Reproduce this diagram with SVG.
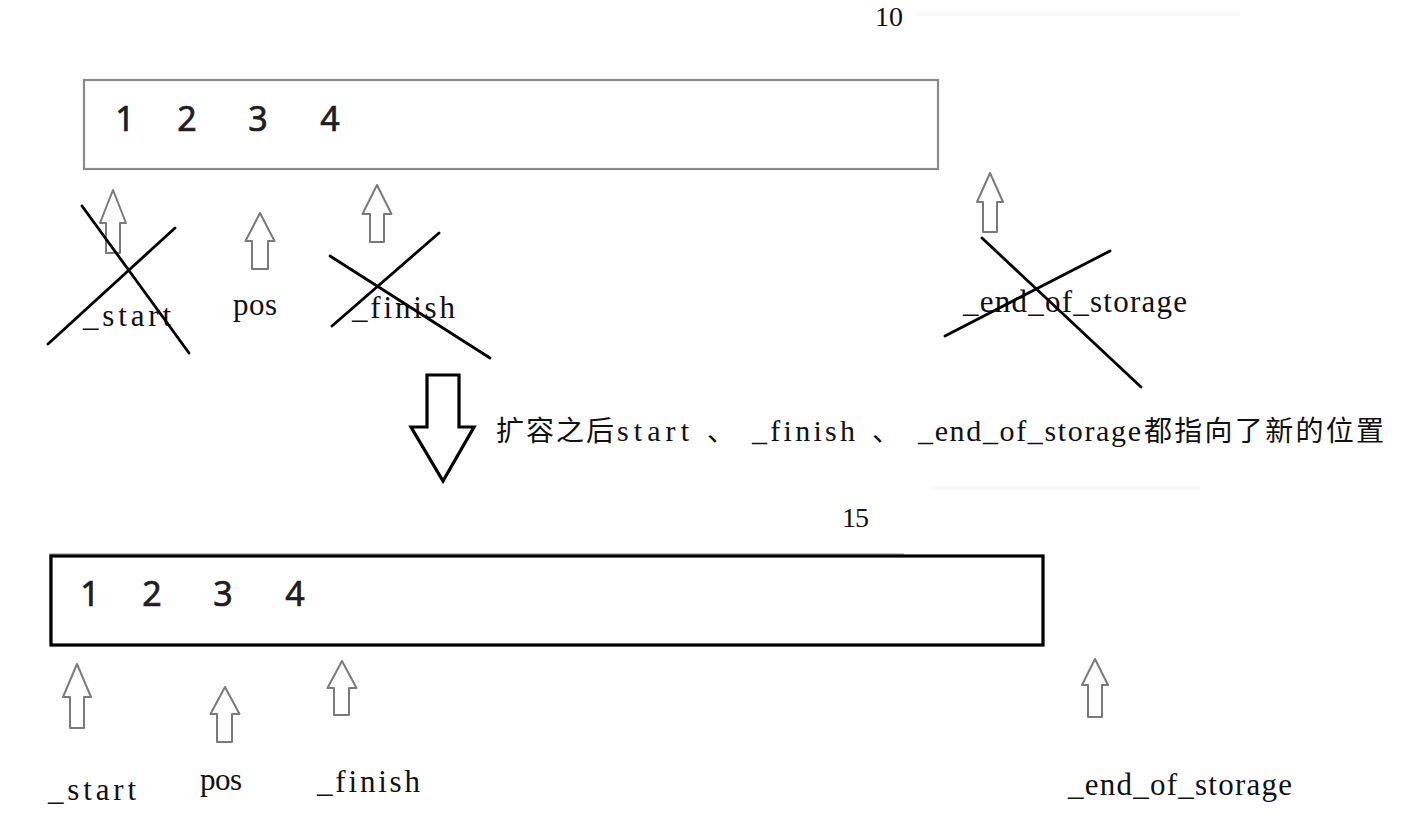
<svg xmlns="http://www.w3.org/2000/svg" width="1404" height="839" viewBox="0 0 1404 839">
<style>
.bg{fill:#ffffff}
.old{fill:#ffffff;stroke:#8a8a8a;stroke-width:2.2}
.new{fill:#ffffff;stroke:#000000;stroke-width:3.2}
.ghost{fill:none;stroke:#b0b0b0;stroke-width:1.5}
.num{font-family:"Noto Sans","Open Sans","Liberation Sans",sans-serif;font-size:34px;fill:#1e1e1e;stroke:#1e1e1e;stroke-width:0.7;text-anchor:middle}
.lbl{font-family:"Liberation Serif","Noto Sans CJK SC",serif;font-size:31px;fill:#111111}
.cnt{font-family:"Liberation Serif",serif;font-size:28px;fill:#111111}
.cap{font-family:"Liberation Serif","Noto Sans CJK SC",serif;font-size:30px;fill:#111111}
.cjk{font-family:"Noto Sans CJK SC","Liberation Serif",serif;font-size:28px}
.ptr{fill:#ffffff;stroke:#7a7a7a;stroke-width:2;stroke-linejoin:round}
.x{stroke:#000000;stroke-width:2.8;stroke-linecap:round}
.big{fill:#ffffff;stroke:#000000;stroke-width:3.2;stroke-linejoin:miter}
.faint{stroke:#f8f9f8;stroke-width:4}
</style>
<rect class="bg" x="0" y="0" width="1404" height="839"/>
<line class="faint" x1="915" y1="14" x2="1240" y2="14"/>
<line class="faint" x1="930" y1="488" x2="1200" y2="488"/>

<g id="old-vector">
  <text class="cnt" x="875" y="26" textLength="28">10</text>
  <rect class="old" x="84" y="80" width="854" height="89"/>
  <text class="num" x="125" y="131">1</text>
  <text class="num" x="187" y="131">2</text>
  <text class="num" x="258" y="131">3</text>
  <text class="num" x="330" y="131">4</text>
</g>

<g id="old-start">
  <text class="lbl" x="83" y="326" textLength="88">_start</text>
</g>
<g id="old-pos">
  <text class="lbl" x="233" y="315" textLength="44">pos</text>
</g>
<g id="old-finish">
  <text class="lbl" x="352" y="318" textLength="103">_finish</text>
</g>
<g id="old-end">
  <text class="lbl" x="963" y="312" textLength="224">_end_of_storage</text>
</g>

<g id="new-vector">
  <text class="cnt" x="842" y="527" textLength="27">15</text>
  <rect class="ghost" x="50" y="554" width="853" height="88"/>
  <rect class="new" x="51" y="556" width="992" height="89"/>
  <text class="num" x="90" y="606">1</text>
  <text class="num" x="152" y="606">2</text>
  <text class="num" x="223" y="606">3</text>
  <text class="num" x="295" y="606">4</text>
</g>

<g id="new-start">
  <text class="lbl" x="48" y="800" textLength="88">_start</text>
</g>
<g id="new-pos">
  <text class="lbl" x="200" y="790" textLength="42">pos</text>
</g>
<g id="new-finish">
  <text class="lbl" x="317" y="792" textLength="103">_finish</text>
</g>
<g id="new-end">
  <text class="lbl" x="1068" y="795" textLength="224">_end_of_storage</text>
</g>

<g id="caption">
  <path class="big" d="M427,375 L459,375 L459,427 L474,427 L443,481 L411,427 L427,427 Z"/>
  <text class="cap" y="441"><tspan class="cjk" x="496" textLength="118">扩容之后</tspan><tspan x="617" textLength="72">start</tspan> <tspan class="cjk" x="707">、</tspan> <tspan x="752" textLength="103">_finish</tspan> <tspan class="cjk" x="872">、</tspan> <tspan x="918" textLength="223">_end_of_storage</tspan><tspan class="cjk" x="1144" textLength="240">都指向了新的位置</tspan></text>
</g>

<g id="connectors">
  <path class="ptr" d="M113,190 L126,223 L120,223 L120,253 L106,253 L106,223 L100,223 Z"/>
  <path class="ptr" d="M260,213 L274.5,241 L268,241 L268,269 L252,269 L252,241 L245.5,241 Z"/>
  <path class="ptr" d="M377,185 L391.5,214 L384,214 L384,242 L370,242 L370,214 L362.5,214 Z"/>
  <path class="ptr" d="M990,173 L1003,202 L997,202 L997,232 L983,232 L983,202 L977,202 Z"/>
  <path class="ptr" d="M77,664 L91,697 L84,697 L84,728 L70,728 L70,697 L63,697 Z"/>
  <path class="ptr" d="M225,687 L239.5,714 L232,714 L232,742 L217,742 L217,714 L210.5,714 Z"/>
  <path class="ptr" d="M342,661 L356.5,688 L349,688 L349,715 L334,715 L334,688 L327.5,688 Z"/>
  <path class="ptr" d="M1095,659 L1108,685 L1102,685 L1102,717 L1088,717 L1088,685 L1082,685 Z"/>
</g>

<g id="crosses">
  <line class="x" x1="82" y1="206" x2="189" y2="353"/>
  <line class="x" x1="48" y1="344" x2="175" y2="228"/>
  <line class="x" x1="330" y1="256" x2="490" y2="358"/>
  <line class="x" x1="332" y1="326" x2="439" y2="233"/>
  <line class="x" x1="982" y1="238" x2="1141" y2="387"/>
  <line class="x" x1="945" y1="336" x2="1110" y2="251"/>
</g>
</svg>
